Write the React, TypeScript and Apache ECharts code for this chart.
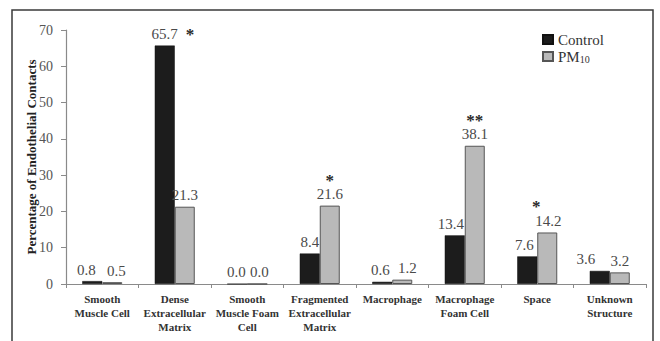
import React, { useEffect, useRef } from "react";
import * as echarts from "echarts";

const categories = [
  "Smooth\nMuscle Cell",
  "Dense\nExtracellular\nMatrix",
  "Smooth\nMuscle Foam\nCell",
  "Fragmented\nExtracellular\nMatrix",
  "Macrophage",
  "Macrophage\nFoam Cell",
  "Space",
  "Unknown\nStructure",
];
const controlValues = [0.8, 65.7, 0.0, 8.4, 0.6, 13.4, 7.6, 3.6];
const pm10Values = [0.5, 21.3, 0.0, 21.6, 1.2, 38.1, 14.2, 3.2];
// significance marks and where they sit relative to the value label
const controlStars = ["", "*", "", "", "", "", "", ""];
const controlStarPlace = ["", "right", "", "", "", "", "", ""];
const pm10Stars = ["", "", "", "*", "", "**", "*", ""];
const pm10StarPlace = ["", "", "", "above", "", "above", "aboveLeft", ""];
const yTicks = [0, 10, 20, 30, 40, 50, 60, 70];

// label nudges (style only), horizontal px
const controlLabelDx = [-6, 0, -1, 0, -2, -4, -3, -14];
const pm10LabelDx = [4, 0, 2, 0, 5, 0, 1, 0];

const SERIF = "Liberation Serif";

function labelFor(value: number, star: string, place: string) {
  const txt = value.toFixed(1);
  if (!star) return `{n|${txt}}`;
  if (place === "right") return `{pad|}{n|${txt}}{gap|}{s|${star}}`;
  if (place === "aboveLeft") return `{s|${star}}{sp|}\n{n|${txt}}`;
  return `{s|${star}}\n{n|${txt}}`;
}

const rich = {
  n: { fontFamily: SERIF, fontSize: 15, color: "#4a4a4a", lineHeight: 15 },
  s: { fontFamily: SERIF, fontSize: 17, fontWeight: "bold" as const, color: "#2a2a2a", lineHeight: 13, align: "center" as const },
  pad: { width: 16 },
  gap: { width: 8 },
  sp: { width: 24 },
};

export default function App() {
  const ref = useRef<HTMLDivElement>(null);
  useEffect(() => {
    if (!ref.current) return;
    const chart = echarts.init(ref.current, null, { renderer: "svg" });
    chart.setOption({
      animation: false,
      backgroundColor: "#ffffff",
      textStyle: { fontFamily: SERIF },
      graphic: [
        {
          type: "rect",
          shape: { x: 12, y: 10, width: 641, height: 345 },
          style: { fill: "none", stroke: "#3a3a3a", lineWidth: 1.5 },
          silent: true,
        },
      ],
      legend: {
        orient: "vertical",
        left: 537,
        top: 27,
        itemWidth: 10,
        itemHeight: 9,
        itemGap: 2,
        icon: "rect",
        textStyle: {
          fontFamily: SERIF,
          fontSize: 15,
          color: "#333",
          rich: {
            t: { fontFamily: SERIF, fontSize: 15, color: "#333", lineHeight: 16 },
            sub: { fontFamily: SERIF, fontSize: 10, color: "#333", lineHeight: 16, verticalAlign: "bottom" },
          },
        },
        formatter: (name: string) => (name === "PM10" ? "{t|PM}{sub|10}" : `{t|${name}}`),
        data: ["Control", "PM10"],
      },
      grid: { left: 66, right: 14, top: 30, bottom: 57, containLabel: false },
      xAxis: {
        type: "category",
        data: categories,
        axisLine: { lineStyle: { color: "#8a8a8a", width: 1.2 } },
        axisTick: { show: true, length: 4, lineStyle: { color: "#8a8a8a" } },
        axisLabel: {
          interval: 0,
          margin: 8,
          fontFamily: SERIF,
          fontSize: 11,
          fontWeight: "bold",
          color: "#333",
          lineHeight: 14,
        },
      },
      yAxis: {
        type: "value",
        min: 0,
        max: 70,
        interval: 10,
        name: "Percentage of Endothelial Contacts",
        nameLocation: "middle",
        nameGap: 28,
        nameMoveOverlap: false,
        nameTextStyle: { fontFamily: SERIF, fontSize: 13, fontWeight: "bold", color: "#222" },
        axisLine: { show: true, lineStyle: { color: "#8a8a8a", width: 1.2 } },
        axisTick: { show: true, length: 5, lineStyle: { color: "#8a8a8a" } },
        splitLine: { show: false },
        axisLabel: {
          margin: 13,
          fontFamily: SERIF,
          fontSize: 14,
          color: "#555",
          formatter: (v: number) => (yTicks.includes(v) ? String(v) : ""),
        },
      },
      series: [
        {
          name: "Control",
          type: "bar",
          barWidth: 20,
          barGap: "0%",
          itemStyle: { color: "#1c1c1c", borderColor: "#111", borderWidth: 0.5 },
          label: { show: true, position: "top", distance: 4, rich },
          data: controlValues.map((v, i) => ({
            value: v,
            label: {
              formatter: labelFor(v, controlStars[i], controlStarPlace[i]),
              offset: [controlLabelDx[i], 0],
            },
          })),
        },
        {
          name: "PM10",
          type: "bar",
          barWidth: 20,
          itemStyle: { color: "#b9b9b9", borderColor: "#555", borderWidth: 1 },
          label: { show: true, position: "top", distance: 4, rich },
          data: pm10Values.map((v, i) => ({
            value: v,
            label: {
              formatter: labelFor(v, pm10Stars[i], pm10StarPlace[i]),
              offset: [pm10LabelDx[i], 0],
            },
          })),
        },
      ],
    });
    return () => chart.dispose();
  }, []);
  return (
    <div
      ref={ref}
      style={{ position: "fixed", left: 0, top: 0, width: 660, height: 341 }}
    />
  );
}
